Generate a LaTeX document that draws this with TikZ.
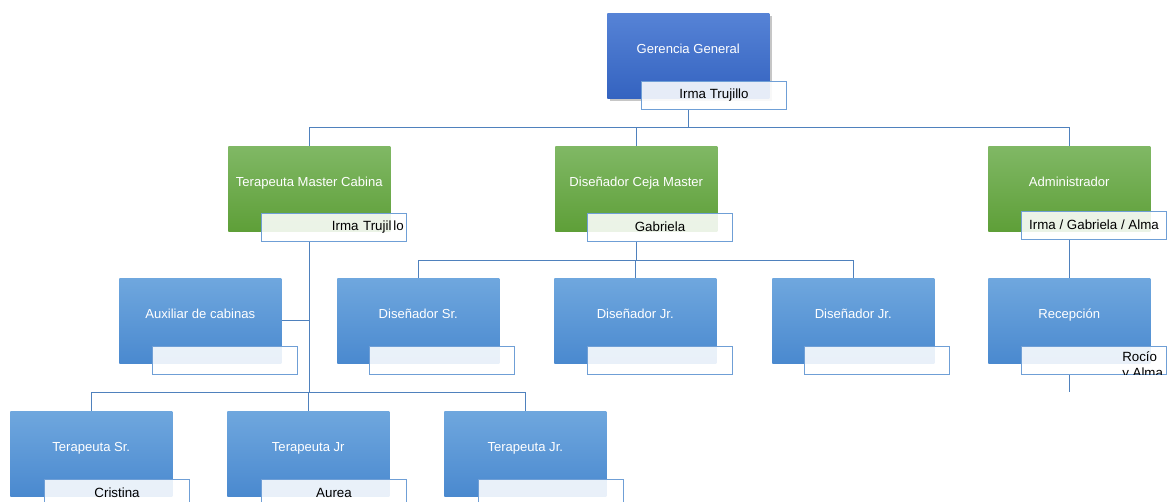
\documentclass[tikz,border=0pt]{standalone}
\usepackage{fontspec}
\setmainfont{Liberation Sans}
\usetikzlibrary{shadows,backgrounds}
\definecolor{azulA}{HTML}{5683D6}
\definecolor{azulB}{HTML}{3463C0}
\definecolor{celesteA}{HTML}{6FA7DE}
\definecolor{celesteB}{HTML}{4A89CF}
\definecolor{verdeA}{HTML}{80B865}
\definecolor{verdeB}{HTML}{5E9F38}
\definecolor{linea}{HTML}{4F81BD}
\definecolor{borde}{HTML}{6F9FD6}
\tikzset{
  puesto/.style={rectangle, anchor=north west, inner sep=0pt, minimum width=121.5pt,
    minimum height=63.75pt, text=white, font=\fontsize{9.8}{12}\selectfont,
    text height=7pt, text depth=10.5pt},
  gerencia/.style={puesto, top color=azulA, bottom color=azulB,
    drop shadow={shadow xshift=2pt, shadow yshift=-2pt, opacity=0.45}},
  jefe/.style={puesto, top color=verdeA, bottom color=verdeB},
  staff/.style={puesto, top color=celesteA, bottom color=celesteB},
  nombre/.style={rectangle, anchor=north west, draw=borde, line width=0.8pt, fill=white,
    fill opacity=0.88, text opacity=1, inner sep=2pt, minimum width=108.75pt,
    minimum height=21pt, font=\fontsize{10}{12}\selectfont},
  conector/.style={draw=linea, line width=0.7pt}
}
\begin{document}
\begin{tikzpicture}[x=0.75pt, y=-0.75pt]
\useasboundingbox (0,0) rectangle (1167,502);
% nivel 1
\node[gerencia] (gg) at (607,13) {Gerencia General};
\node[nombre] (ggn) at ([shift={(34,-18)}]gg.south west) {Irma Trujillo};
% nivel 2
\node[jefe] (tm) at (228,146) {Terapeuta Master Cabina};
\node[nombre, text width=104.75pt, align=right] (tmn) at ([shift={(33,-19)}]tm.south west) {Irma Trujil\hspace{1.5pt}lo};
\node[jefe] (dc) at (555,146) {Diseñador Ceja Master};
\node[nombre] (dcn) at ([shift={(32,-19)}]dc.south west) {Gabriela};
\node[jefe] (adm) at (988,146) {Administrador};
\node[nombre] (admn) at ([shift={(33,-21)}]adm.south west) {Irma / Gabriela / Alma};
% nivel 3
\node[staff] (aux) at (119,278) {Auxiliar de cabinas};
\node[nombre] (auxn) at ([shift={(33,-18)}]aux.south west) {};
\node[staff] (ds) at (337,278) {Diseñador Sr.};
\node[nombre] (dsn) at ([shift={(32,-18)}]ds.south west) {};
\node[staff] (dj1) at (554,278) {Diseñador Jr.};
\node[nombre] (dj1n) at ([shift={(33,-18)}]dj1.south west) {};
\node[staff] (dj2) at (772,278) {Diseñador Jr.};
\node[nombre] (dj2n) at ([shift={(32,-18)}]dj2.south west) {};
\node[staff] (rec) at (988,278) {Recepción};
\node[nombre] (recn) at ([shift={(33,-18)}]rec.south west) {};
\begin{scope}
  \clip (recn.south west) rectangle (recn.north east);
  \node[anchor=north west, align=left, inner sep=0pt, font=\fontsize{10}{12}\selectfont] (recnt) at (1122,351) {Rocío\\y Alma};
\end{scope}
% nivel 4
\node[staff] (ts) at (10,411) {Terapeuta Sr.};
\node[nombre] (tsn) at ([shift={(34,-18)}]ts.south west) {Cristina};
\node[staff] (tj1) at (227,411) {Terapeuta Jr};
\node[nombre] (tj1n) at ([shift={(34,-18)}]tj1.south west) {Aurea};
\node[staff] (tj2) at (444,411) {Terapeuta Jr.};
\node[nombre] (tj2n) at ([shift={(34,-18)}]tj2.south west) {};
% conectores
\begin{scope}[on background layer]
\coordinate (bus1) at (0,127);
\coordinate (bus2) at (0,260);
\coordinate (bus3) at (0,392);
\draw[conector] (gg.south |- ggn.south) -- (gg.south |- bus1) -| (tm.north);
\draw[conector] (gg.south |- bus1) -| (dc.north);
\draw[conector] (gg.south |- bus1) -| (adm.north);
\draw[conector] (dc.south |- dcn.south) -- (dc.south |- bus2) -| (ds.north);
\draw[conector] (dc.south |- bus2) -| (dj1.north);
\draw[conector] (dc.south |- bus2) -| (dj2.north);
\draw[conector] (tm.south |- tmn.south) -- (tm.south |- bus3);
\draw[conector] (aux.east) -- (aux.east -| tm.south);
\draw[conector] (tm.south |- bus3) -| (ts.north);
\draw[conector] (tm.south |- bus3) -| (tj1.north);
\draw[conector] (tm.south |- bus3) -| (tj2.north);
\draw[conector] (adm.south |- admn.south) -- (rec.north);
\coordinate (finrec) at (rec.south |- bus3);
\draw[conector] (rec.south |- recn.south) -- (finrec);
\end{scope}
\end{tikzpicture}
\end{document}
